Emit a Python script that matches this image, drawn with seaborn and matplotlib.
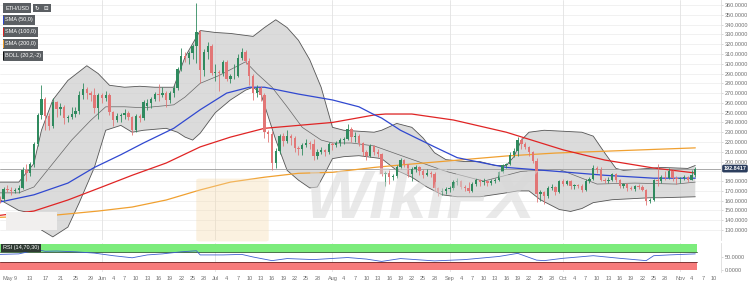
import numpy as np
import pandas as pd
import matplotlib
matplotlib.use("Agg")
import matplotlib.pyplot as plt
import matplotlib.transforms as mtrans
from matplotlib.patches import Rectangle, FancyBboxPatch
import seaborn as sns

# ---------------- data (ETH/USD daily, 2019-05-05 .. 2019-11-05) ----------------
first_day = "2019-05-05"
opens = [
    # May
    163, 162, 172, 171, 170, 171, 173, 191, 188, 198, 218, 248, 264, 247, 236, 261, 254, 256, 245, 246,
    249, 252, 268, 274, 270, 268, 255,
    # Jun
    268, 265, 268, 251, 243, 247, 248, 250, 246, 232, 247, 245, 257, 260, 264, 269, 268, 270, 263, 270,
    275, 295, 308, 306, 311, 318, 332, 294, 312, 318,
    # Jul
    291, 292, 291, 302, 284, 287, 288, 306, 312, 303, 287, 270, 275, 268, 230, 228, 199, 211, 226, 221,
    226, 224, 214, 213, 217, 219, 218, 206, 210, 212, 210,
    # Aug
    218, 217, 219, 222, 223, 233, 225, 226, 219, 210, 206, 216, 210, 208, 187, 188, 184, 185, 194, 202,
    197, 187, 192, 194, 190, 186, 188, 187, 173, 169, 170,
    # Sep
    172, 173, 179, 180, 174, 173, 170, 177, 181, 179, 180, 178, 180, 181, 189, 196, 197, 207, 211, 222,
    218, 215, 210, 201, 167, 169, 165, 173, 174, 169,
    # Oct
    180, 177, 180, 175, 176, 175, 171, 180, 182, 193, 191, 181, 180, 181, 187, 181, 175, 177, 173, 172,
    175, 174, 171, 160, 161, 181, 180, 184, 183, 190, 183,
    # Nov
    182, 183, 184, 181, 186,
]
highs = [
    165, 174, 176, 174, 173, 176, 194, 197, 200, 220, 250, 278, 266, 250, 265, 262, 260, 258, 248, 256,
    256, 272, 280, 276, 272, 275, 270,
    270, 272, 270, 252, 250, 250, 254, 252, 247, 249, 249, 263, 264, 266, 271, 279, 276, 272, 272, 278,
    297, 316, 312, 313, 320, 362, 335, 315, 322, 320,
    300, 294, 304, 304, 290, 300, 310, 316, 314, 306, 290, 278, 277, 270, 232, 231, 214, 228, 229, 232,
    228, 226, 216, 219, 223, 221, 223, 213, 215, 213, 220,
    220, 221, 224, 225, 238, 235, 230, 228, 220, 212, 218, 217, 213, 209, 190, 191, 187, 196, 204, 203,
    198, 194, 196, 195, 192, 192, 190, 189, 174, 173, 174,
    175, 181, 183, 181, 176, 179, 179, 183, 182, 183, 181, 182, 183, 190, 198, 199, 210, 214, 225, 224,
    220, 216, 211, 204, 171, 170, 175, 177, 175, 181,
    182, 181, 181, 177, 177, 177, 182, 184, 196, 195, 194, 183, 184, 188, 188, 182, 178, 178, 175, 176,
    177, 176, 172, 163, 182, 198, 186, 190, 193, 191, 185,
    184, 186, 185, 191, 194,
]
lows = [
    158, 160, 169, 166, 168, 168, 172, 180, 185, 194, 216, 244, 232, 232, 234, 246, 248, 238, 240, 244,
    246, 249, 264, 264, 262, 250, 244,
    260, 262, 248, 236, 240, 240, 244, 242, 227, 230, 240, 242, 253, 255, 262, 262, 266, 256, 260, 266,
    273, 293, 302, 300, 305, 301, 280, 288, 305, 289,
    282, 272, 288, 282, 280, 284, 286, 304, 300, 278, 263, 266, 262, 224, 220, 191, 193, 208, 216, 219,
    217, 210, 207, 207, 215, 213, 202, 203, 208, 206, 208,
    212, 215, 216, 218, 222, 220, 220, 216, 206, 202, 205, 207, 205, 185, 175, 177, 181, 183, 192, 194,
    184, 180, 189, 186, 183, 185, 184, 170, 165, 166, 167,
    169, 171, 176, 172, 170, 168, 169, 175, 175, 176, 175, 176, 178, 180, 188, 193, 196, 205, 206, 213,
    213, 206, 199, 159, 160, 157, 163, 171, 166, 168,
    175, 176, 172, 172, 173, 169, 170, 178, 181, 188, 180, 178, 178, 180, 179, 173, 173, 170, 171, 170,
    172, 170, 156, 158, 160, 175, 178, 181, 182, 180, 177,
    178, 181, 179, 181, 184,
]
closes = [
    162, 172, 171, 170, 171, 173, 191, 188, 198, 218, 248, 264, 247, 236, 261, 254, 256, 245, 246, 249,
    252, 268, 274, 270, 268, 255, 268,
    265, 268, 251, 243, 247, 248, 250, 246, 232, 247, 245, 261, 260, 264, 269, 268, 270, 263, 270, 275,
    295, 308, 306, 311, 318, 332, 294, 312, 318, 291,
    292, 291, 302, 284, 287, 288, 306, 312, 303, 287, 270, 275, 268, 230, 228, 199, 211, 226, 221, 226,
    224, 214, 213, 217, 219, 218, 206, 210, 212, 210, 218,
    217, 219, 222, 223, 233, 225, 226, 219, 210, 206, 216, 210, 208, 187, 188, 184, 185, 194, 202, 197,
    187, 192, 194, 190, 186, 188, 187, 173, 169, 170, 172,
    173, 179, 180, 174, 173, 170, 177, 181, 179, 180, 178, 180, 181, 189, 196, 197, 207, 211, 222, 218,
    215, 210, 201, 167, 169, 165, 173, 174, 169, 180,
    177, 180, 175, 176, 175, 171, 180, 182, 193, 191, 181, 180, 181, 187, 181, 175, 177, 173, 172, 175,
    174, 171, 160, 161, 181, 180, 184, 183, 190, 183, 182,
    183, 184, 181, 186, 192.84,
]
last_price = 192.8417

# Bollinger (20,2,-2)
bb_up_dates = ["05-05", "05-10", "05-14", "05-16", "05-19", "05-23", "05-28", "05-31", "06-03", "06-07",
               "06-11", "06-15", "06-20", "06-23", "06-27", "07-01", "07-05", "07-11", "07-14", "07-17",
               "07-20", "07-23", "07-26", "07-29", "08-01", "08-04", "08-12", "08-14", "08-18", "08-22",
               "08-25", "08-28", "08-31", "09-05", "09-09", "09-13", "09-16", "09-18", "09-20", "09-22",
               "09-26", "10-01", "10-06", "10-09", "10-12", "10-15", "10-17", "10-27", "11-03", "11-05"]
bb_up_vals = [179, 179, 198, 232, 263, 283, 298, 290, 278, 276,
              277, 276, 276, 307, 334, 332, 331, 328, 337, 345,
              337, 324, 304, 276, 235, 232, 230, 232, 239, 235,
              224, 209, 202, 200, 200, 196, 196, 205, 222, 230,
              232, 231, 230, 226, 209, 193, 191, 194, 193, 196]
bb_lo_dates = ["05-05", "05-10", "05-14", "05-16", "05-19", "05-23", "05-26", "05-30", "06-02", "06-06",
               "06-09", "06-12", "06-18", "06-21", "06-23", "06-25", "06-27", "07-01", "07-05", "07-09",
               "07-11", "07-13", "07-17", "07-20", "07-23", "07-26", "07-28", "07-30", "08-01", "08-04",
               "08-08", "08-12", "08-14", "08-18", "08-22", "08-26", "08-30", "09-03", "09-09", "09-16",
               "09-19", "09-22", "09-25", "09-30", "10-03", "10-06", "10-09", "10-14", "10-24", "10-27",
               "11-05"]
bb_lo_vals = [161, 150, 147, 130, 123, 133, 158, 194, 232, 237,
              230, 232, 234, 230, 225, 222, 229, 250, 263, 273,
              276, 270, 222, 191, 181, 173, 174, 188, 203, 205,
              206, 204, 203, 191, 184, 174, 166, 164, 164, 168,
              170, 170, 161, 151, 149, 152, 158, 161, 163, 163,
              164]
bb_mid_dates = ["05-05", "05-10", "05-14", "05-19", "05-24", "05-29", "06-02", "06-07", "06-12", "06-20",
                "06-23", "06-27", "07-02", "07-05", "07-09", "07-12", "07-16", "07-20", "07-24", "07-29",
                "08-01", "08-06", "08-12", "08-20", "08-31", "09-10", "09-20", "09-30", "10-10", "10-20",
                "10-31", "11-05"]
bb_mid_vals = [168, 168, 174, 198, 222, 242, 256, 256, 255, 258,
               266, 280, 288, 294, 302, 290, 276, 256, 235, 222,
               219, 219, 216, 205, 190, 180, 190, 192, 177, 178,
               177, 179]

sma50_dates = ["05-05", "05-14", "05-23", "05-30", "06-06", "06-12", "06-20", "06-27", "07-04", "07-10",
               "07-14", "07-23", "08-01", "08-08", "08-12", "08-14", "08-19", "08-28", "09-03", "09-10",
               "09-16", "09-26", "10-12", "10-25", "11-05"]
sma50_vals = [158.6, 166, 178, 194, 207, 219, 234, 253, 270, 276,
              276, 269, 263, 256, 248, 244.5, 232, 215, 204, 198.5,
              194, 191, 186, 183, 183]
sma100_dates = ["05-05", "05-14", "05-23", "06-01", "06-09", "06-18", "06-27", "07-05", "07-14", "07-23",
                "08-01", "08-12", "08-15", "08-22", "09-02", "09-16", "10-01", "10-12", "10-25", "11-05"]
sma100_vals = [145, 149.4, 160.7, 174, 186, 198.5, 215, 225, 234, 237,
               240, 247.6, 248.6, 248.6, 242.5, 230, 212, 201.6, 193.4, 188.3]
sma200_dates = ["05-05", "05-19", "05-31", "06-09", "06-18", "06-27", "07-05", "07-14", "07-23", "08-01",
                "08-12", "08-19", "09-16", "09-29", "11-05"]
sma200_vals = [143, 145, 149.4, 153.5, 160.7, 171, 179, 184, 188, 189,
               194, 196.5, 205.7, 208.7, 214]

rsi_dates = ["05-05", "05-10", "05-15", "05-17", "05-20", "05-25", "05-30", "06-04", "06-09", "06-13",
             "06-17", "06-22", "06-26", "06-27", "07-03", "07-08", "07-11", "07-16", "07-20", "07-27",
             "08-05", "08-10", "08-14", "08-19", "08-28", "09-05", "09-14", "09-19", "09-24", "09-26",
             "10-01", "10-09", "10-16", "10-23", "10-25", "10-29", "11-05"]
rsi_vals = [60, 62, 78, 72, 73, 70, 65, 55, 47, 58,
            62, 70, 74, 58, 58, 60, 50, 36, 44, 40,
            48, 42, 33, 44, 35, 40, 52, 64, 38, 36,
            45, 55, 45, 36, 55, 58, 62]

price_ticks = list(range(130, 361, 10))
hidden_tick = 190  # covered by the last-price tag in the reference
tick_days = ["05-07", "05-09", "05-13", "05-17", "05-21", "05-25", "05-29",
             "06-01", "06-04", "06-07", "06-10", "06-13", "06-16", "06-19", "06-22", "06-25", "06-28",
             "07-01", "07-04", "07-07", "07-10", "07-13", "07-16", "07-19", "07-22", "07-25", "07-28",
             "08-01", "08-04", "08-07", "08-10", "08-13", "08-16", "08-19", "08-22", "08-25", "08-28",
             "09-01", "09-04", "09-07", "09-10", "09-13", "09-16", "09-19", "09-22", "09-25", "09-28",
             "10-01", "10-04", "10-07", "10-10", "10-13", "10-16", "10-19", "10-22", "10-25", "10-28",
             "11-01", "11-04", "11-07", "11-10"]
tick_labels = ["May", "9", "13", "17", "21", "25", "29",
               "Jun", "4", "7", "10", "13", "16", "19", "22", "25", "28",
               "Jul", "4", "7", "10", "13", "16", "19", "22", "25", "28",
               "Aug", "4", "7", "10", "13", "16", "19", "22", "25", "28",
               "Sep", "4", "7", "10", "13", "16", "19", "22", "25", "28",
               "Oct", "4", "7", "10", "13", "16", "19", "22", "25", "28",
               "Nov", "4", "7", "10"]
month_starts = ["06-01", "07-01", "08-01", "09-01", "10-01", "11-01"]

# ---------------- style ----------------
sns.set_theme(style="white")
plt.rcParams["font.family"] = ["Liberation Sans", "DejaVu Sans"]

GREEN = "#2f8a5e"
RED = "#e27676"
TXT = "#707070"
FS = 4.0

BASE = pd.Timestamp("2019-05-09")


def dx(ds):
    return np.array([(pd.Timestamp("2019-" + d) - BASE).days for d in ds], float)


o = np.array(opens, float)
h = np.array(highs, float)
l = np.array(lows, float)
c = np.array(closes, float)
dates = pd.date_range(first_day, periods=len(c), freq="D")
xc = np.array([(d - BASE).days for d in dates], float)

fig = plt.figure(figsize=(7.5, 2.86), dpi=100)
fig.patch.set_facecolor("white")
ax = fig.add_axes([0, 1 - 240 / 286, 721 / 750, 240 / 286])
axr = fig.add_axes([0, 1 - 272 / 286, 721 / 750, 29 / 286], sharex=ax)
for a in (ax, axr):
    a.set_facecolor("white")
    for s in a.spines.values():
        s.set_visible(False)
    a.spines["right"].set_visible(True)
    a.spines["right"].set_color("#dddddd")
    a.spines["right"].set_linewidth(0.6)

XMIN, XMAX = -3.97, 186.8
ax.set_xlim(XMIN, XMAX)
ax.set_ylim(119.8, 365.2)

# grid
for v in price_ticks:
    ax.axhline(v, color="#ececec", lw=0.5, zorder=0)
for d in dx(month_starts):
    ax.axvline(d, color="#e2e2e2", lw=0.6, zorder=0)
    axr.axvline(d, color="#e2e2e2", lw=0.6, zorder=0)

# watermark
fig.text(0.56, 0.30, "WikiFX", fontsize=50, fontweight="bold", style="italic",
         color="#d8d8d8", alpha=0.55, ha="center", va="center", zorder=0)
fig.patches.append(FancyBboxPatch((200 / 750, 1 - 240 / 286), 65 / 750, 60 / 286,
                                  boxstyle="round,pad=0.005", transform=fig.transFigure,
                                  fc="#f6d9a8", ec="none", alpha=0.35, zorder=0))

# Bollinger band
xu, xl = dx(bb_up_dates), dx(bb_lo_dates)
ax.fill(np.r_[xu, xl[::-1]], np.r_[bb_up_vals, bb_lo_vals[::-1]],
        color="#cfcfcf", alpha=0.75, lw=0, zorder=1)
ax.plot(xu, bb_up_vals, color="#555555", lw=0.6, zorder=2)
ax.plot(xl, bb_lo_vals, color="#555555", lw=0.6, zorder=2)
sns.lineplot(x=dx(bb_mid_dates), y=bb_mid_vals, ax=ax, color="#666666", lw=0.5, zorder=2)

# moving averages
sns.lineplot(x=dx(sma200_dates), y=sma200_vals, ax=ax, color="#f0a030", lw=0.9, zorder=3)
sns.lineplot(x=dx(sma100_dates), y=sma100_vals, ax=ax, color="#e02424", lw=0.9, zorder=3)
sns.lineplot(x=dx(sma50_dates), y=sma50_vals, ax=ax, color="#3048d0", lw=0.9, zorder=3)

# candles
col = np.where(c >= o, GREEN, RED)
ax.vlines(xc, l, h, colors=col, lw=0.6, zorder=4)
ax.bar(xc, np.maximum(np.abs(c - o), 0.8), bottom=np.minimum(o, c), width=0.62,
       color=col, lw=0, zorder=5)

# current price line + label
ax.axhline(last_price, color="#9a9a9a", lw=0.6, zorder=2)
trans = mtrans.blended_transform_factory(ax.transAxes, ax.transData)
ax.text(1.0035, last_price, f"{last_price:.4f}", transform=trans, fontsize=FS, color="white",
        fontweight="bold", va="center", ha="left", clip_on=False, zorder=10,
        bbox=dict(boxstyle="round,pad=0.25,rounding_size=0.3", fc="#2c3e5e", ec="none"))

# faded label box lower-left
ax.add_patch(Rectangle((6 / 721, 10 / 240), 51 / 721, 18 / 240, transform=ax.transAxes,
                       fc="#f1efee", ec="none", zorder=6))

# y axis
ax.yaxis.tick_right()
ax.set_yticks(price_ticks)
ax.set_yticklabels(["" if v == hidden_tick else f"{v:.4f}" for v in price_ticks])
ax.tick_params(axis="y", labelsize=FS, labelcolor=TXT, color="#bbbbbb", length=1.5, width=0.4, pad=1)
ax.tick_params(axis="x", bottom=False, labelbottom=False)
ax.set_xlabel("")
ax.set_ylabel("")

# ---------------- RSI panel ----------------
axr.set_ylim(-7.69, 103.85)
xend = xc[-1] + 0.5
xs = np.array([XMIN, xend])
axr.fill_between(xs, 70, 100, color="#7cec7c", lw=0, zorder=1)
axr.fill_between(xs, 0, 30, color="#f67b7b", lw=0, zorder=1)
axr.plot(xs, [70, 70], color="#2d5a2d", lw=0.6, zorder=2)
axr.plot(xs, [30, 30], color="#6a2a2a", lw=0.6, zorder=2)
sns.lineplot(x=dx(rsi_dates), y=rsi_vals, ax=axr, color="#3f5fcf", lw=0.6, zorder=3)
axr.yaxis.tick_right()
axr.set_yticks([0, 50])
axr.set_yticklabels(["0.0000", "50.0000"])
axr.tick_params(axis="y", labelsize=FS, labelcolor=TXT, color="#bbbbbb", length=1.5, width=0.4, pad=1)
axr.set_xticks(dx(tick_days))
axr.set_xticklabels(tick_labels)
axr.tick_params(axis="x", labelsize=FS, labelcolor=TXT, length=0, pad=3)
axr.set_xlim(XMIN, XMAX)
axr.set_xlabel("")
axr.set_ylabel("")
axr.text(3 / 721, 0.83, "RSI (14,70,30)", transform=axr.transAxes, fontsize=FS, color="white",
         va="center", ha="left", zorder=10,
         bbox=dict(boxstyle="square,pad=0.3", fc="#2f3b33", ec="none"))

# ---------------- legend boxes ----------------
legend_items = [("ETH/USD", None), ("SMA (50,0)", "#3048d0"), ("SMA (100,0)", "#e02424"),
                ("SMA (200,0)", "#f0a030"), ("BOLL (20,2,-2)", "#111111")]
for i, (lab, stripe) in enumerate(legend_items):
    ypx = 8 + 12 * i
    fig.text(5 / 750, 1 - ypx / 286, lab, fontsize=FS, color="white", va="center", ha="left",
             bbox=dict(boxstyle="square,pad=0.4", fc="#5b5f63", ec="none"), zorder=20)
    if stripe:
        fig.patches.append(Rectangle((2.5 / 750, 1 - (ypx + 4) / 286), 1.6 / 750, 8 / 286,
                                     transform=fig.transFigure, fc=stripe, ec="none", zorder=21))
for k, sym in enumerate(["\u21bb", "\u229f"]):
    fig.text((35 + 9 * k) / 750, 1 - 8 / 286, sym, fontsize=FS, color="white", va="center",
             ha="left", family=["DejaVu Sans"],
             bbox=dict(boxstyle="square,pad=0.35", fc="#5b5f63", ec="none"), zorder=20)

fig.savefig("out.png", dpi=100, facecolor="white")
